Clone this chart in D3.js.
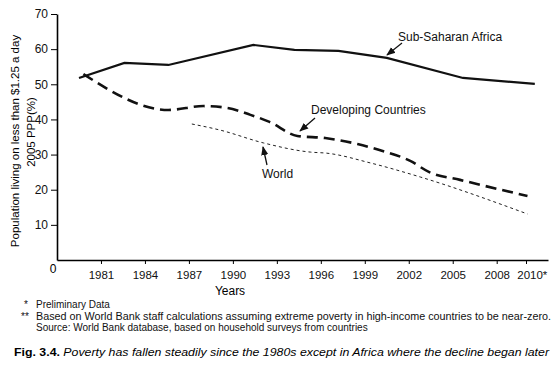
<!DOCTYPE html>
<html>
<head>
<meta charset="utf-8">
<script src="https://cdn.jsdelivr.net/npm/d3@7"></script>
<style>
  body { margin: 0; background: #fff; }
  svg { display: block; font-family: "Liberation Sans", Arial, sans-serif; }
</style>
</head>
<body>
<div id="chart"></div>
<script>
// values (year, % of population)
var ssaYears = [1979.5, 1982.6, 1985.6, 1991.4, 1994.2, 1997.2, 2000.5, 2005.7, 2010.6];
var ssaValues = [51.8, 56.1, 55.5, 61.2, 59.8, 59.5, 57.5, 51.8, 50.1];

var devYears = [1979.8, 1985.6, 1988.0, 1989.6, 1991.2, 1992.5, 1994.4, 1996.3, 1998.5, 2000.0, 2002.1, 2003.4, 2005.5, 2010.1];
var devValues = [52.9, 42.7, 43.8, 43.3, 41.3, 39.3, 35.3, 34.7, 33.0, 31.3, 28.2, 25.0, 22.8, 18.2];

var worldYears = [1987.2, 1989.1, 1992.1, 1995.3, 1996.4, 1999.4, 2002.8, 2010.1];
var worldValues = [38.7, 37.0, 33.3, 30.7, 30.4, 27.6, 23.6, 13.1];

var xTicks = [1981, 1984, 1987, 1990, 1993, 1996, 1999, 2002, 2005, 2008, 2010];
var xTickLabels = ['1981', '1984', '1987', '1990', '1993', '1996', '1999', '2002', '2005', '2008', '2010*'];
var yTicks = [10, 20, 30, 40, 50, 60, 70];

var footnotes = [
  ['*', 'Preliminary Data'],
  ['**', 'Based on World Bank staff calculations assuming extreme poverty in high-income countries to be near-zero.'],
  ['', 'Source: World Bank database, based on household surveys from countries']
];

var width = 556,
    height = 369;

var x = d3.scaleLinear().domain([1978, 2011.5]).range([57, 548]);
var y = d3.scaleLinear().domain([0, 70]).range([260, 14]);

var svg = d3.select('#chart').append('svg')
    .attr('width', width)
    .attr('height', height);

svg.append('defs').append('marker')
    .attr('id', 'arrow')
    .attr('viewBox', '0 0 10 10')
    .attr('refX', 9).attr('refY', 5)
    .attr('markerWidth', 9).attr('markerHeight', 9)
    .attr('markerUnits', 'userSpaceOnUse')
    .attr('orient', 'auto')
  .append('path')
    .attr('d', 'M0,1 L10,5 L0,9 Z')
    .attr('fill', '#111');

// axes
var xAxis = svg.append('g')
    .attr('transform', 'translate(0,' + y(0) + ')')
    .call(d3.axisBottom(x).tickValues(xTicks)
      .tickFormat(function(d, i) { return xTickLabels[i]; })
      .tickSize(4).tickSizeOuter(0));
xAxis.select('.domain').attr('stroke-width', 1.6);
xAxis.selectAll('text').attr('font-size', 11.5).attr('dy', '1.05em').attr('fill', '#111');
xAxis.selectAll('.tick text').filter(function(d) { return d === 2010; }).attr('dx', '0.5em');

var yAxis = svg.append('g')
    .attr('transform', 'translate(' + x(1978) + ',0)')
    .call(d3.axisLeft(y).tickValues(yTicks).tickSize(6).tickSizeOuter(0));
yAxis.select('.domain').attr('stroke-width', 1.6);
yAxis.selectAll('text').attr('font-size', 12).attr('fill', '#111');

svg.append('text')
    .attr('x', 53).attr('y', 273)
    .attr('text-anchor', 'middle')
    .attr('font-size', 12)
    .text('0');

svg.append('text')
    .attr('x', 230).attr('y', 295)
    .attr('text-anchor', 'middle')
    .attr('font-size', 12)
    .text('Years');

var ylab = svg.append('text')
    .attr('transform', 'translate(19,141) rotate(-90)')
    .attr('text-anchor', 'middle')
    .attr('font-size', 11.5);
ylab.append('tspan').attr('x', 0).attr('y', 0).text('Population living on less than $1.25 a day');
ylab.append('tspan').attr('x', 9).attr('y', 0).attr('dy', 16).text('2005 PPP(%)');

// lines
function pts(xs, vs) {
  return xs.map(function(d, i) { return [d, vs[i]]; });
}

var straight = d3.line()
    .x(function(d) { return x(d[0]); })
    .y(function(d) { return y(d[1]); });

var smooth = d3.line()
    .curve(d3.curveMonotoneX)
    .x(function(d) { return x(d[0]); })
    .y(function(d) { return y(d[1]); });

svg.append('path')
    .attr('d', smooth(pts(worldYears, worldValues)))
    .attr('fill', 'none')
    .attr('stroke', '#222')
    .attr('stroke-width', 1)
    .attr('stroke-dasharray', '3,3');

svg.append('path')
    .attr('d', smooth(pts(devYears, devValues)))
    .attr('fill', 'none')
    .attr('stroke', '#111')
    .attr('stroke-width', 2.6)
    .attr('stroke-dasharray', '11,6');

svg.append('path')
    .attr('d', straight(pts(ssaYears, ssaValues)))
    .attr('fill', 'none')
    .attr('stroke', '#111')
    .attr('stroke-width', 2.2);

// labels with arrows
function note(text, tx, ty, ax1, ay1, ax2, ay2) {
  svg.append('text')
      .attr('x', tx).attr('y', ty)
      .attr('font-size', 12)
      .attr('fill', '#111')
      .text(text);
  svg.append('line')
      .attr('x1', ax1).attr('y1', ay1)
      .attr('x2', ax2).attr('y2', ay2)
      .attr('stroke', '#111')
      .attr('stroke-width', 1.3)
      .attr('marker-end', 'url(#arrow)');
}
note('Sub-Saharan Africa', 398, 41, 402, 43, 387, 55);
note('Developing Countries', 311, 114, 315, 118, 300, 131);
note('World', 262, 178, 267, 165, 263, 147);

// footnotes
var fn = svg.append('g').attr('font-size', 10).attr('fill', '#111');
footnotes.forEach(function(f, i) {
  var yy = 308 + i * 11.5;
  fn.append('text').attr('x', f[0] === '*' ? 24 : 21).attr('y', yy).text(f[0]);
  var t = fn.append('text').attr('x', 36).attr('y', yy).text(f[1]);
  if (i === 1) t.attr('textLength', 515).attr('lengthAdjust', 'spacingAndGlyphs');
});

var cap = svg.append('text')
    .attr('x', 14).attr('y', 356)
    .attr('font-size', 11.5)
    .attr('textLength', 535)
    .attr('lengthAdjust', 'spacingAndGlyphs');
cap.append('tspan').attr('font-weight', 'bold').text('Fig. 3.4. ');
cap.append('tspan').attr('font-style', 'italic')
    .text('Poverty has fallen steadily since the 1980s except in Africa where the decline began later');
</script>
</body>
</html>
